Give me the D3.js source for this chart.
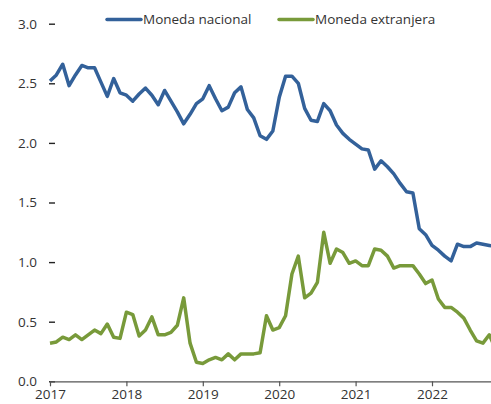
<!DOCTYPE html>
<html>
<head>
<meta charset="utf-8">
<script src="https://cdn.jsdelivr.net/npm/d3@7"></script>
<style>
  html, body { margin: 0; padding: 0; background: #fff; }
  svg text { font-family: "Open Sans", "Noto Sans", sans-serif; fill: #333; }
</style>
</head>
<body>
<svg id="chart" width="491" height="404"></svg>
<script>
// Monthly series, Jan 2017 onward
const startYear = 2017;
const monedaNacional = [
  2.52, 2.57, 2.66, 2.48, 2.57, 2.65, 2.63, 2.63, 2.51, 2.39, 2.54, 2.42,
  2.40, 2.35, 2.41, 2.46, 2.40, 2.32, 2.44, 2.35, 2.26, 2.16, 2.24, 2.33,
  2.37, 2.48, 2.37, 2.27, 2.30, 2.42, 2.47, 2.28, 2.21, 2.06, 2.03, 2.10,
  2.38, 2.56, 2.56, 2.50, 2.29, 2.19, 2.18, 2.33, 2.27, 2.15, 2.08, 2.03,
  1.99, 1.95, 1.94, 1.78, 1.85, 1.80, 1.74, 1.66, 1.59, 1.58, 1.28, 1.23,
  1.14, 1.10, 1.05, 1.01, 1.15, 1.13, 1.13, 1.16, 1.15, 1.14, 1.13
];
const monedaExtranjera = [
  0.32, 0.33, 0.37, 0.35, 0.39, 0.35, 0.39, 0.43, 0.40, 0.48, 0.37, 0.36,
  0.58, 0.56, 0.38, 0.43, 0.54, 0.39, 0.39, 0.41, 0.47, 0.70, 0.32, 0.16,
  0.15, 0.18, 0.20, 0.18, 0.23, 0.18, 0.23, 0.23, 0.23, 0.24, 0.55, 0.43,
  0.45, 0.55, 0.90, 1.05, 0.70, 0.74, 0.83, 1.25, 0.99, 1.11, 1.08, 0.99,
  1.01, 0.97, 0.97, 1.11, 1.10, 1.05, 0.95, 0.97, 0.97, 0.97, 0.90, 0.82,
  0.85, 0.69, 0.62, 0.62, 0.58, 0.53, 0.43, 0.34, 0.32, 0.39, 0.27
];
const yTicks = [0, 0.5, 1.0, 1.5, 2.0, 2.5, 3.0];
const xTickYears = [2017, 2018, 2019, 2020, 2021, 2022];
const seriesNames = ["Moneda nacional", "Moneda extranjera"];
const seriesColors = ["#33619a", "#789a3a"];

const svg = d3.select("#chart");
const W = 491, H = 404;
const margin = { left: 50, right: W, top: 23.7, bottom: 381.3 };
const fontSize = "13.5px";

const monthsPerYear = 12;
const x = d3.scaleLinear()
  .domain([0, 5 * monthsPerYear])
  .range([margin.left, 432]);
const y = d3.scaleLinear().domain([0, 3]).range([margin.bottom, margin.top]);

svg.append("defs").append("clipPath").attr("id", "plotclip")
  .append("rect").attr("x", margin.left - 5).attr("y", 0)
  .attr("width", margin.right - margin.left + 5).attr("height", H);

// Y axis: short tick marks and labels, no axis line
const yAxis = d3.axisLeft(y)
  .tickValues(yTicks)
  .tickFormat(d3.format(".1f"))
  .tickSize(-6)
  .tickPadding(12);
const gy = svg.append("g").attr("transform", `translate(${margin.left - 1},0)`).call(yAxis);
gy.select(".domain").remove();
gy.selectAll(".tick line").attr("stroke", "#222").attr("stroke-width", 1.4);
gy.selectAll(".tick text").style("font-size", fontSize).attr("fill", "#333");

// X axis
const xAxis = d3.axisBottom(x)
  .tickValues(xTickYears.map(yr => (yr - startYear) * monthsPerYear))
  .tickFormat((d) => String(startYear + d / monthsPerYear))
  .tickSize(5)
  .tickSizeOuter(0)
  .tickPadding(3);
const gx = svg.append("g").attr("transform", `translate(0,${margin.bottom})`).call(xAxis);
gx.select(".domain").attr("d", `M${margin.left},0.5H${margin.right}`).attr("stroke", "#555").attr("stroke-width", 1.2);
gx.selectAll(".tick line").attr("stroke", "#555").attr("stroke-width", 1.2);
gx.selectAll(".tick text").style("font-size", fontSize).attr("fill", "#333");

// Lines
const line = d3.line()
  .x((d, i) => x(i))
  .y(d => y(d));

const plot = svg.append("g").attr("clip-path", "url(#plotclip)");
[monedaNacional, monedaExtranjera].forEach((s, k) => {
  plot.append("path")
    .datum(s)
    .attr("fill", "none")
    .attr("stroke", seriesColors[k])
    .attr("stroke-width", 3.5)
    .attr("stroke-linejoin", "round")
    .attr("stroke-linecap", "butt")
    .attr("d", line);
});

// Legend
const legendX = [107, 279];
seriesNames.forEach((name, k) => {
  const g = svg.append("g").attr("transform", `translate(${legendX[k]},19.5)`);
  g.append("line")
    .attr("x1", 0).attr("x2", 34).attr("y1", 0).attr("y2", 0)
    .attr("stroke", seriesColors[k]).attr("stroke-width", 3.5).attr("stroke-linecap", "round");
  g.append("text")
    .attr("x", 36).attr("y", 0).attr("dy", "0.35em")
    .style("font-size", fontSize)
    .text(name);
});
</script>
</body>
</html>
